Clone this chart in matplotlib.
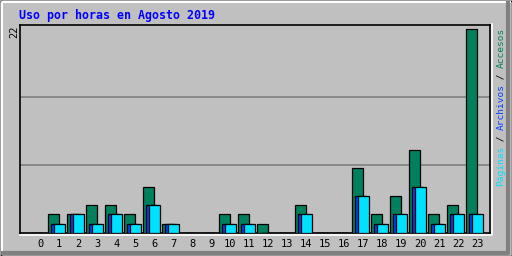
import numpy as np
import matplotlib
matplotlib.use("Agg")
import matplotlib.pyplot as plt
from matplotlib.lines import Line2D

# webalizer-style hourly usage
hours = list(range(24))
hits = [0, 2, 2, 3, 3, 2, 5, 1, 0, 0, 2, 2, 1, 0, 3, 0, 0, 7, 2, 4, 9, 2, 3, 22]
files = [0, 1, 2, 1, 2, 1, 3, 1, 0, 0, 1, 1, 0, 0, 2, 0, 0, 4, 1, 2, 5, 1, 2, 2]
pages = [0, 1, 2, 1, 2, 1, 3, 1, 0, 0, 1, 1, 0, 0, 2, 0, 0, 4, 1, 2, 5, 1, 2, 2]
title = "Uso por horas en Agosto 2019"
max_label = "22"

BG = "#c0c0c0"
C_HITS = "#00805c"
C_FILES = "#0040ff"
C_PAGES = "#00e0ff"

W, H = 512, 256
fig = plt.figure(figsize=(W / 100, H / 100), dpi=100, facecolor=BG)

# background axes in pixel coordinates for the frame
bg = fig.add_axes([0, 0, 1, 1])
bg.set_xlim(0, W)
bg.set_ylim(H, 0)
bg.axis("off")
bg.add_line(Line2D([0.5, W - 0.5, W - 0.5, 0.5, 0.5], [0.5, 0.5, H - 0.5, H - 0.5, 0.5], color="black", lw=1))
bg.add_line(Line2D([1.5, 1.5, W - 2], [H - 2, 1.5, 1.5], color="white", lw=1.5))
bg.add_line(Line2D([3, W - 4.5, W - 4.5], [H - 3.5, H - 3.5, 3], color="#808080", lw=3))
# white highlight of plot box (bottom / right)
bg.add_line(Line2D([20, 491.5, 491.5], [234.5, 234.5, 24], color="white", lw=1.2))

bg.text(19, 15, title, color="#0000ff", fontsize=8.4, fontweight="bold",
        family="DejaVu Sans Mono", va="center", ha="left")
bg.text(14, 26, max_label, color="black", fontsize=7.5, family="DejaVu Sans Mono",
        rotation=90, va="top", ha="center")

# vertical legend on the right
legend_parts = [("Páginas", C_PAGES), (" / ", "black"), ("Archivos", C_FILES),
                (" / ", "black"), ("Accesos", C_HITS)]
y = 186
char_h = 5.6
for txt, col in legend_parts:
    bg.text(501, y, txt, color=col, fontsize=6.8, family="DejaVu Sans Mono",
            rotation=90, va="bottom", ha="center")
    y -= len(txt) * char_h

# plot area
ax = fig.add_axes([20 / W, (H - 233) / H, 470 / W, 208 / H], facecolor=BG)
x = np.array(hours)
bw = 11 / 19
ax.bar(x, hits, width=bw, align="edge", color=C_HITS, edgecolor="black", linewidth=0.9, zorder=3)
ax.bar(x + 3 / 19, files, width=bw, align="edge", color=C_FILES, edgecolor="black", linewidth=0.9, zorder=4)
ax.bar(x + 6 / 19, pages, width=bw, align="edge", color=C_PAGES, edgecolor="black", linewidth=0.9, zorder=5)

ax.set_xlim(-0.47, 24.27)
ax.set_ylim(0, 22.44)
for g in [22 / 3, 44 / 3]:
    ax.axhline(g, color="#808080", lw=1.2, zorder=1)

ax.set_xticks(x + 0.6)
ax.set_xticklabels([str(h) for h in hours], family="DejaVu Sans Mono", fontsize=7.5)
ax.tick_params(axis="x", length=0, pad=4)
ax.set_yticks([])
for s in ax.spines.values():
    s.set_color("black")
    s.set_linewidth(1.2)

fig.savefig("out.png", dpi=100, facecolor=BG)
